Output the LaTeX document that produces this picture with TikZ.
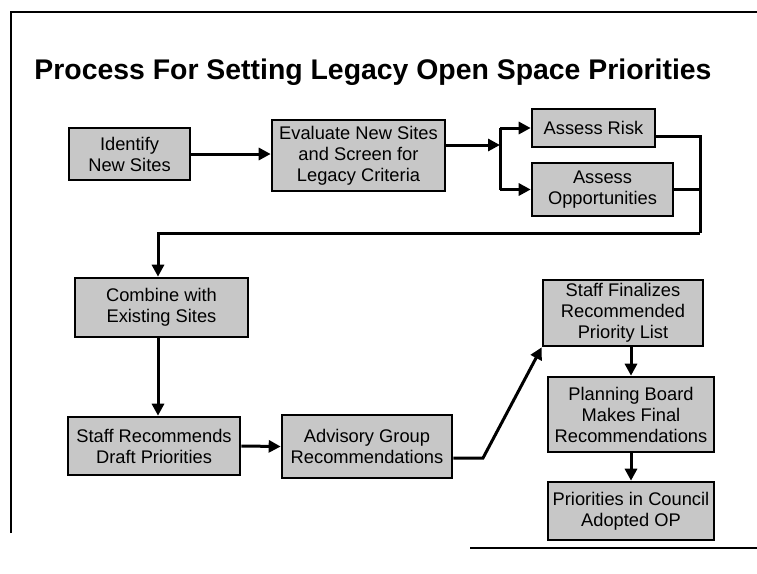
\documentclass[tikz,border=0pt]{standalone}
\usepackage{fontspec}
\setmainfont{Liberation Sans}
\usetikzlibrary{arrows.meta}
\begin{document}
\begin{tikzpicture}[x=1pt,y=-1pt,
  box/.style={draw, line width=2.6pt, fill=black!22, align=center, inner sep=0pt,
    font=\fontsize{18.3}{21}\selectfont},
  conn/.style={line width=3pt},
  arr/.style={conn, -{Triangle[length=12pt,width=12pt]}},
  frame/.style={line width=1.6pt}]
\fill[white] (0,0) rectangle (757,573);
\useasboundingbox (0,0) rectangle (757,573);
% frame
\coordinate (ftl) at (11,12);
\coordinate (ftr) at (757,12);
\coordinate (fbl) at (11,533);
\coordinate (fb1) at (470,548);
\coordinate (fb2) at (757,548);
\draw[frame] (fbl) -- (ftl) -- (ftr);
\draw[frame] (fb1) -- (fb2);
% title
\node[font=\fontsize{28.4}{32}\selectfont\bfseries] (title) at (373,72) {Process For Setting Legacy Open Space Priorities};
% boxes
\node[box, minimum width=121, minimum height=52] (idn) at (129.5,154) {Identify\\New Sites};
\node[box, minimum width=173, minimum height=71] (eval) at (358.5,155.5) {Evaluate New Sites\\and Screen for\\Legacy Criteria};
\node[box, minimum width=123, minimum height=38] (risk) at (593.5,128) {Assess Risk};
\node[box, minimum width=141, minimum height=53] (opp) at (602.5,189.5) {Assess\\Opportunities};
\node[box, minimum width=173, minimum height=59] (comb) at (161.5,307.5) {Combine with\\Existing Sites};
\node[box, minimum width=172, minimum height=58] (srec) at (154,446) {Staff Recommends\\Draft Priorities};
\node[box, minimum width=170, minimum height=63] (adv) at (367,446.5) {Advisory Group\\Recommendations};
\node[box, minimum width=160, minimum height=66] (sfin) at (623,313) {Staff Finalizes\\Recommended\\Priority List};
\node[box, minimum width=166, minimum height=75] (plan) at (631,414.5) {Planning Board\\Makes Final\\Recommendations};
\node[box, minimum width=166, minimum height=58] (prio) at (631,511) {Priorities in Council\\Adopted OP};
% connectors
\coordinate (fork) at (500,145);
\coordinate (loop) at (700,233);
\coordinate (bend) at (483,458);
\draw[arr] (idn.east) -- (eval.west |- idn.east);
\draw[arr] (eval.east |- fork) -- (fork);
\draw[conn] (fork |- risk.west) -- (fork |- opp.west);
\draw[arr] (fork |- risk.west) -- (risk.west);
\draw[arr] (fork |- opp.west) -- (opp.west);
\draw[conn] ([yshift=-8pt]risk.east) -| (loop);
\draw[conn] (opp.east) -- (opp.east -| loop);
\draw[arr] (loop) -| ([xshift=-3.5pt]comb.north);
\draw[arr] ([xshift=-3.5pt]comb.south) -- ([xshift=-3.5pt]comb.south |- srec.north);
\draw[arr] (srec.east) -- (adv.west);
\draw[arr] (adv.east |- bend) -- (bend) -- (sfin.south west);
\draw[arr] (plan.north |- sfin.south) -- (plan.north);
\draw[arr] (plan.south) -- (prio.north);
\end{tikzpicture}
\end{document}
